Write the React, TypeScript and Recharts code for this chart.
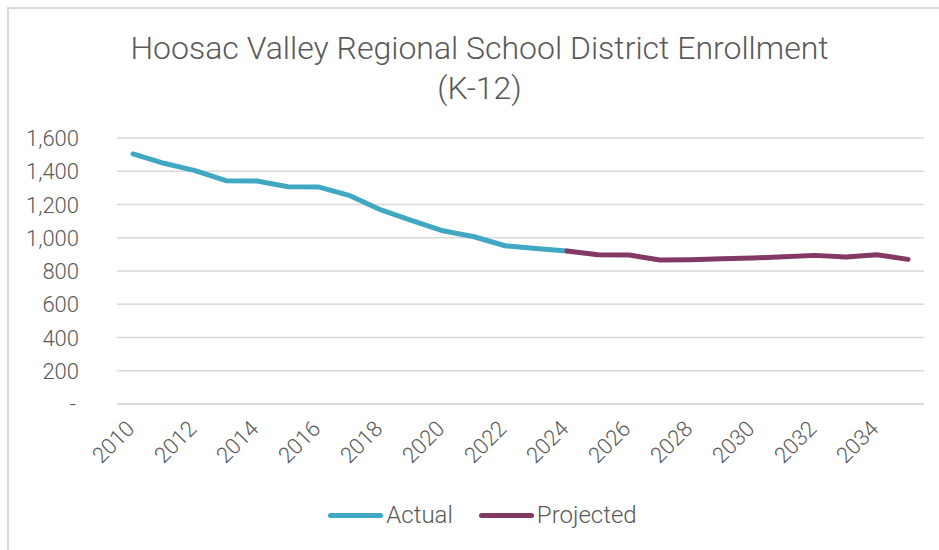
import { CartesianGrid, Legend, Line, LineChart, XAxis, YAxis } from "recharts";

const years = [
  "2010", "2011", "2012", "2013", "2014", "2015", "2016", "2017", "2018",
  "2019", "2020", "2021", "2022", "2023", "2024", "2025", "2026", "2027",
  "2028", "2029", "2030", "2031", "2032", "2033", "2034", "2035",
];

const actual = [
  1504, 1448, 1404, 1343, 1341, 1307, 1305, 1253, 1167, 1103, 1042, 1006, 952, 936, 920,
  null, null, null, null, null, null, null, null, null, null, null,
];

const projected = [
  null, null, null, null, null, null, null, null, null, null, null, null, null, null,
  920, 898, 896, 866, 868, 874, 878, 886, 894, 884, 898, 870,
];

const yTicks = [0, 200, 400, 600, 800, 1000, 1200, 1400, 1600];

const COLORS = {
  actual: "#41a8c3",
  projected: "#843964",
  grid: "#d9d9d9",
  text: "#595959",
};

const FONT = "Roboto, 'Noto Sans', sans-serif";

const chartData = years.map((year, i) => ({
  year,
  actual: actual[i],
  projected: projected[i],
}));

const YTick = ({ x, y, payload }: any) => {
  const v = payload.value as number;
  const label = v === 0 ? "-" : v.toLocaleString("en-US");
  return (
    <text
      x={v === 0 ? x - 33 : x - 30}
      y={y}
      dy={8}
      textAnchor="end"
      fill={COLORS.text}
      fontSize={22}
      fontWeight={300}
      fontFamily={FONT}
    >
      {label}
    </text>
  );
};

const XTick = ({ x, y, payload }: any) => {
  const tx = x + 3;
  const ty = y + 18;
  return (
    <text
      x={tx}
      y={ty}
      transform={`rotate(-45, ${tx}, ${ty})`}
      textAnchor="end"
      fill={COLORS.text}
      fontSize={22}
      fontWeight={300}
      fontFamily={FONT}
    >
      {payload.value}
    </text>
  );
};

const LegendContent = () => (
  <div
    style={{
      display: "flex",
      justifyContent: "center",
      alignItems: "center",
      height: 40,
      paddingLeft: 41,
      fontFamily: FONT,
      fontWeight: 300,
      fontSize: 24,
      color: COLORS.text,
    }}
  >
    {[
      { name: "Actual", color: COLORS.actual },
      { name: "Projected", color: COLORS.projected },
    ].map((item, i) => (
      <div key={item.name} style={{ display: "flex", alignItems: "center", marginLeft: i ? 26 : 0 }}>
        <div style={{ width: 55, height: 5, borderRadius: 3, background: item.color, marginRight: 3 }} />
        <span>{item.name}</span>
      </div>
    ))}
  </div>
);

export default function App() {
  return (
    <div style={{ position: "absolute", left: 0, top: 0, width: 939, height: 550, background: "#fff" }}>
      <div
        style={{
          position: "absolute",
          left: 7,
          top: 7,
          width: 932,
          height: 543,
          borderTop: `2px solid ${COLORS.grid}`,
          borderLeft: `2px solid ${COLORS.grid}`,
          boxSizing: "border-box",
        }}
      />
      <div
        style={{
          position: "absolute",
          left: 0,
          top: 28,
          width: 959,
          textAlign: "center",
          fontFamily: FONT,
          fontWeight: 300,
          fontSize: 32,
          lineHeight: "40px",
          color: COLORS.text,
        }}
      >
        Hoosac Valley Regional School District Enrollment
        <br />
        (K-12)
      </div>
      <div style={{ position: "absolute", left: 0, top: 0 }}>
        <LineChart
          width={939}
          height={550}
          data={chartData}
          margin={{ top: 138, right: 15, left: 0, bottom: 15 }}
        >
          <CartesianGrid vertical={false} stroke={COLORS.grid} strokeWidth={1.5} />
          <XAxis
            dataKey="year"
            interval={1}
            padding={{ left: 16, right: 16 }}
            tickLine={false}
            axisLine={{ stroke: COLORS.grid, strokeWidth: 1.5 }}
            tick={<XTick />}
            height={91}
          />
          <YAxis
            width={117}
            domain={[0, 1600]}
            ticks={yTicks}
            axisLine={false}
            tickLine={false}
            tick={<YTick />}
          />
          <Legend verticalAlign="bottom" height={40} content={<LegendContent />} />
          <Line
            dataKey="actual"
            name="Actual"
            stroke={COLORS.actual}
            strokeWidth={5}
            strokeLinecap="round"
            strokeLinejoin="round"
            dot={false}
            isAnimationActive={false}
          />
          <Line
            dataKey="projected"
            name="Projected"
            stroke={COLORS.projected}
            strokeWidth={5}
            strokeLinecap="round"
            strokeLinejoin="round"
            dot={false}
            isAnimationActive={false}
          />
        </LineChart>
      </div>
    </div>
  );
}
